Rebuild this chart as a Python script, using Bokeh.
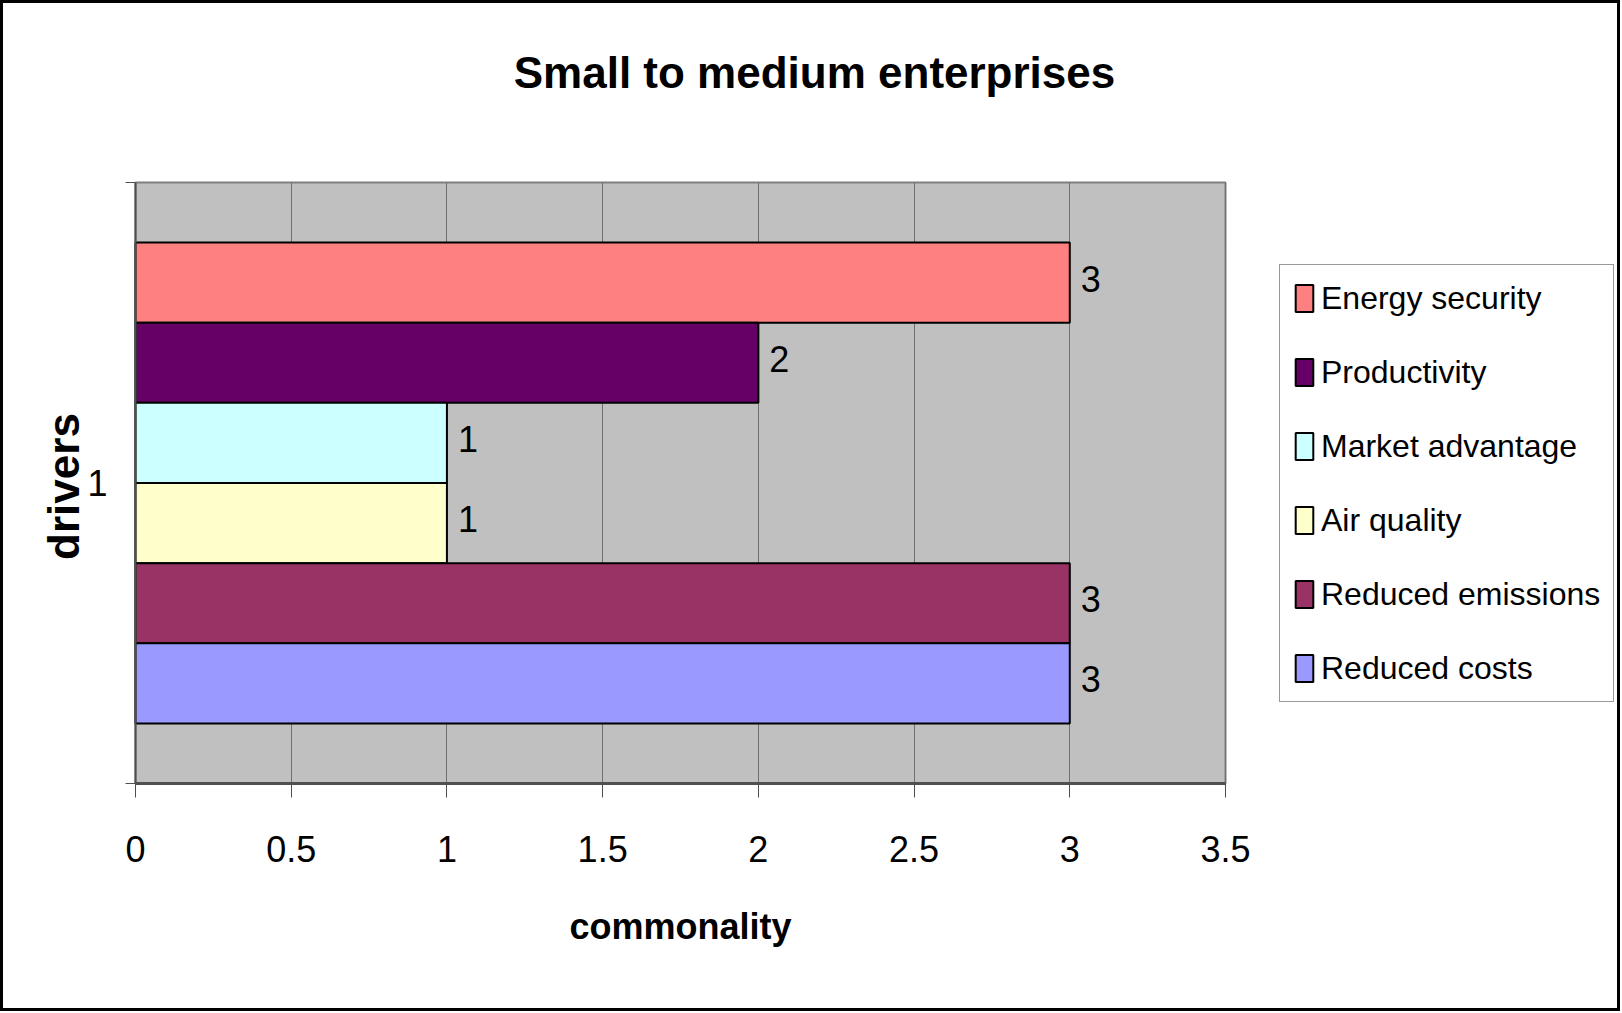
import math
from bokeh.plotting import figure
from bokeh.models import (Range1d, FixedTicker, Legend, LegendItem, LabelSet, Label,
                          ColumnDataSource)
from bokeh.core.properties import value
from bokeh.embed import file_html
from bokeh.resources import INLINE

# ---- data ----
title_text = "Small to medium enterprises"
series = ["Energy security", "Productivity", "Market advantage", "Air quality",
          "Reduced emissions", "Reduced costs"]
values = [3, 2, 1, 1, 3, 3]
colors = ["#FF8080", "#660066", "#CCFFFF", "#FFFFCC", "#993366", "#9999FF"]
categories = ["1"]
x_ticks = [0, 0.5, 1, 1.5, 2, 2.5, 3, 3.5]
x_tick_labels = ["0", "0.5", "1", "1.5", "2", "2.5", "3", "3.5"]
x_max = 3.5
x_label = "commonality"
y_label = "drivers"

FONT = "Liberation Sans"

# ---- layout (pixels) ----
W, H = 1620, 1011
OX, OY = 132, 231            # pixel offset of the data origin from canvas left / bottom
PX_X, PX_Y = 1090, 601       # size of the grey plot area in pixels
ux = x_max / PX_X            # data units per pixel
uy = 1.0 / PX_Y

p = figure(width=W, height=H, output_backend="svg", toolbar_location=None,
           x_range=Range1d(-OX * ux, (W - OX) * ux),
           y_range=Range1d(-OY * uy, (H - OY) * uy),
           min_border_left=0, min_border_right=0, min_border_top=0, min_border_bottom=0,
           background_fill_color="white", border_fill_color="white",
           outline_line_color=None,
           styles={"border": "3px solid black"})

# grey plot area
p.quad(left=0, right=x_max, bottom=0, top=1, fill_color="#C0C0C0",
       line_color="#808080", line_width=2, level="image")

# bars: six series in one category, the group fills 80% of the category
n = len(series)
group = 0.8
bar_h = group / n
top = 0.5 + group / 2
centers = [top - (i + 0.5) * bar_h for i in range(n)]
src = ColumnDataSource(dict(y=centers, right=values, color=colors, name=series,
                            label=[str(v) for v in values]))
r = p.hbar(y="y", height=bar_h, left=0, right="right", source=src,
           fill_color="color", line_color="black", line_width=2)

labels = LabelSet(x="right", y="y", text="label", source=src, x_offset=11, y_offset=4,
                  text_baseline="middle", text_align="left",
                  text_font=value(FONT), text_font_size="36px", text_color="black")
p.add_layout(labels)

# grid
p.xgrid.ticker = FixedTicker(ticks=x_ticks)
p.xgrid.bounds = (0, x_max)
p.xgrid.cross_bounds = (0, 1)
p.xgrid.grid_line_color = "#707070"
p.xgrid.grid_line_width = 1
p.ygrid.visible = False

# x axis, drawn at y = 0
xa = p.xaxis[0]
xa.fixed_location = 0
xa.bounds = (0, x_max)
xa.ticker = FixedTicker(ticks=x_ticks)
xa.major_label_overrides = dict(zip(x_ticks, x_tick_labels))
xa.major_label_text_font = FONT
xa.major_label_text_font_size = "36px"
xa.major_label_text_color = "black"
xa.major_tick_out = 14
xa.major_tick_in = 0
xa.major_tick_line_color = "#505050"
xa.minor_tick_line_color = None
xa.axis_line_color = "#505050"
xa.axis_line_width = 3
xa.major_label_standoff = 38

# y axis, drawn at x = 0
ya = p.yaxis[0]
ya.fixed_location = 0
ya.bounds = (0, 1)
ya.ticker = FixedTicker(ticks=[0.5], minor_ticks=[0.0, 1.0])
ya.major_label_overrides = {0.5: categories[0]}
ya.major_label_text_font = FONT
ya.major_label_text_font_size = "36px"
ya.major_label_text_color = "black"
ya.major_tick_out = 0
ya.major_tick_in = 0
ya.minor_tick_out = 10
ya.minor_tick_in = 0
ya.minor_tick_line_color = "#505050"
ya.axis_line_color = "#505050"
ya.axis_line_width = 2
ya.major_label_standoff = 18

# axis titles, centred on the grey area
p.add_layout(Label(x=x_max / 2, y=-143 * uy, text=x_label, text_align="center",
                   text_baseline="alphabetic", text_font=FONT, text_font_style="bold",
                   text_font_size="36px", text_color="black"))
p.add_layout(Label(x=-72 * ux, y=297 * uy, text=y_label, angle=math.pi / 2,
                   text_align="center", text_baseline="alphabetic", text_font=FONT,
                   text_font_style="bold", text_font_size="44px", text_color="black"))

# chart title
p.add_layout(Label(x=679 * ux, y=711 * uy, text=title_text, text_align="center",
                   text_baseline="alphabetic", text_font=FONT, text_font_style="bold",
                   text_font_size="44px", text_color="black"))

# legend to the right of the grey area (location in pixels from the canvas corner)
items = [LegendItem(label=s, renderers=[r], index=i) for i, s in enumerate(series)]
legend = Legend(items=items, location=(1276, 312), orientation="vertical",
                label_text_font=FONT, label_text_font_size="32px",
                label_text_color="black",
                glyph_width=22, glyph_height=34, label_standoff=6,
                label_height=40, spacing=34, padding=13, margin=0,
                border_line_color="#333333", border_line_width=1,
                background_fill_color="white", background_fill_alpha=1)
p.add_layout(legend)

open("out.html", "w").write(file_html(p, INLINE))
